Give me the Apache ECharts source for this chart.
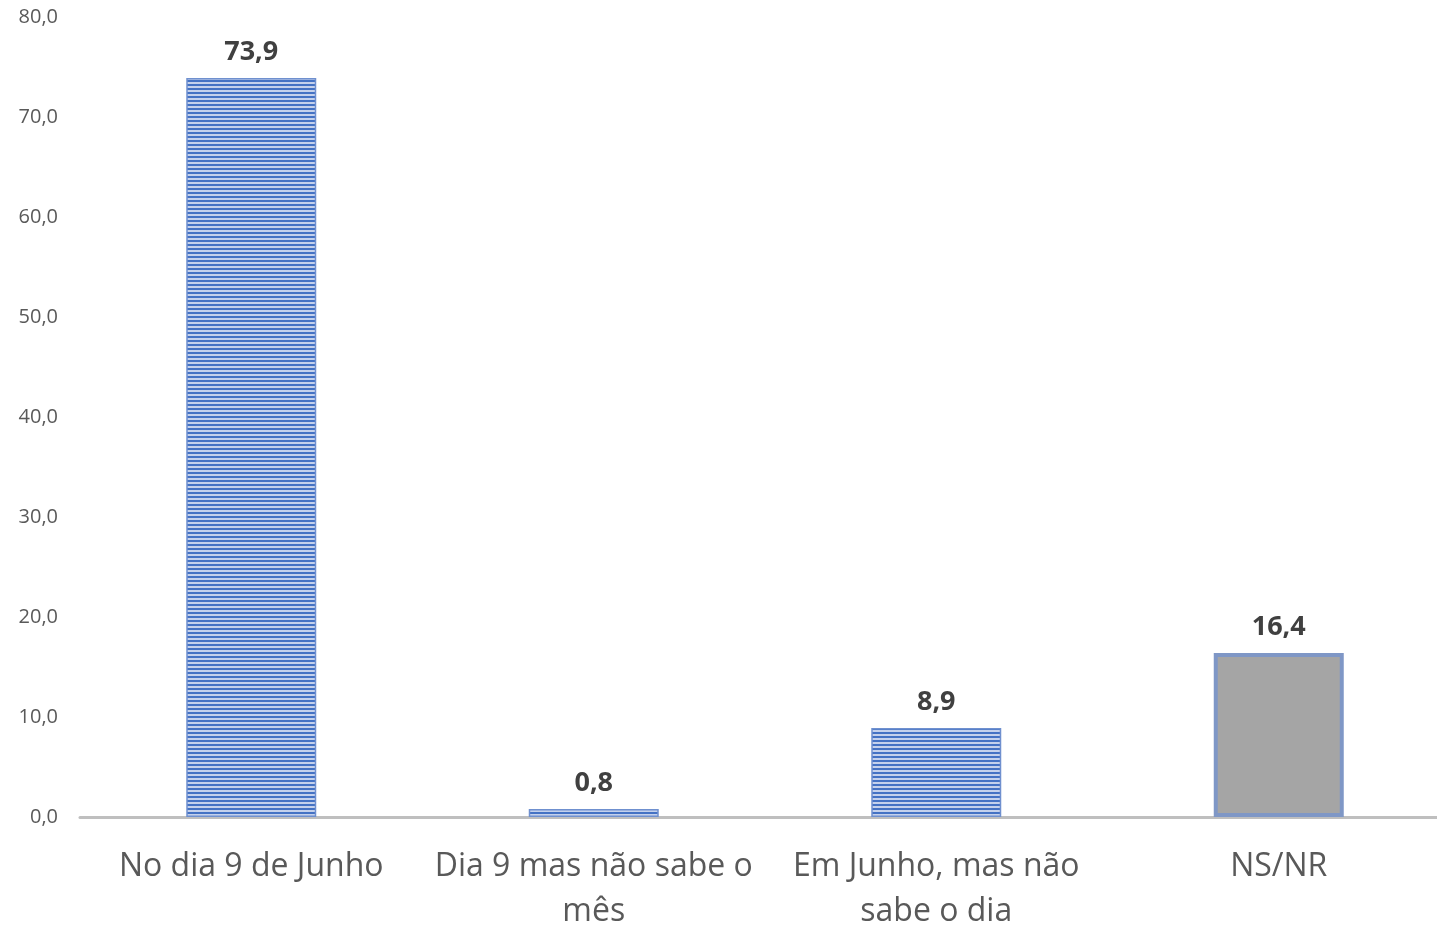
<!DOCTYPE html>
<html>
<head>
<meta charset="utf-8">
<script src="https://cdn.jsdelivr.net/npm/echarts@6/dist/echarts.min.js"></script>
<style>
  html, body { margin: 0; padding: 0; background: #fff; }
  #chart { width: 1437px; height: 928px; }
</style>
</head>
<body>
<div id="chart"></div>
<script>
const categories = ['No dia 9 de Junho', 'Dia 9 mas não sabe o\nmês', 'Em Junho, mas não\nsabe o dia', 'NS/NR'];
const values = [73.9, 0.8, 8.9, 16.4];
const striped = [true, true, true, false];
const yTicks = [0, 10, 20, 30, 40, 50, 60, 70, 80];

// horizontal stripe fill for the bars
function stripePattern() {
  const c = document.createElement('canvas');
  c.width = 4; c.height = 4;
  const ctx = c.getContext('2d');
  ctx.fillStyle = '#c4d1ec';
  ctx.fillRect(0, 0, 4, 4);
  ctx.fillStyle = '#4472c4';
  ctx.fillRect(0, 0, 4, 2);
  return c;
}
const pattern = { image: stripePattern(), repeat: 'repeat' };

const fmt = v => v.toFixed(1).replace('.', ',');
const FONT = 'Open Sans, Noto Sans, sans-serif';

const chart = echarts.init(document.getElementById('chart'), null, { renderer: 'canvas' });
chart.setOption({
  animation: false,
  grid: { left: 80, top: 17, width: 1370, height: 800, containLabel: false, outerBoundsMode: 'none' },
  xAxis: {
    type: 'category',
    data: categories,
    axisLine: { show: true, lineStyle: { color: '#bfbfbf', width: 3 } },
    axisTick: { show: false },
    axisLabel: {
      color: '#595959', fontSize: 32, fontFamily: FONT,
      margin: 27, lineHeight: 45, interval: 0
    }
  },
  yAxis: {
    type: 'value',
    min: 0, max: 80, interval: 10,
    axisLine: { show: false },
    axisTick: { show: false },
    splitLine: { show: false },
    axisLabel: {
      color: '#595959', fontSize: 20, fontFamily: FONT,
      margin: 22,
      formatter: v => yTicks.includes(v) ? fmt(v) : ''
    }
  },
  series: [{
    type: 'bar',
    barWidth: 130,
    data: values.map((v, i) => ({
      value: v,
      itemStyle: striped[i]
        ? { color: pattern, borderColor: '#6f90cf', borderWidth: 1.5 }
        : { color: '#a5a5a5', borderColor: '#7f97c6', borderWidth: 4 }
    })),
    label: {
      show: true, position: 'top', distance: 12,
      color: '#404040', fontSize: 27, fontWeight: 'bold',
      fontFamily: FONT,
      formatter: p => fmt(p.value)
    }
  }]
});
</script>
</body>
</html>
